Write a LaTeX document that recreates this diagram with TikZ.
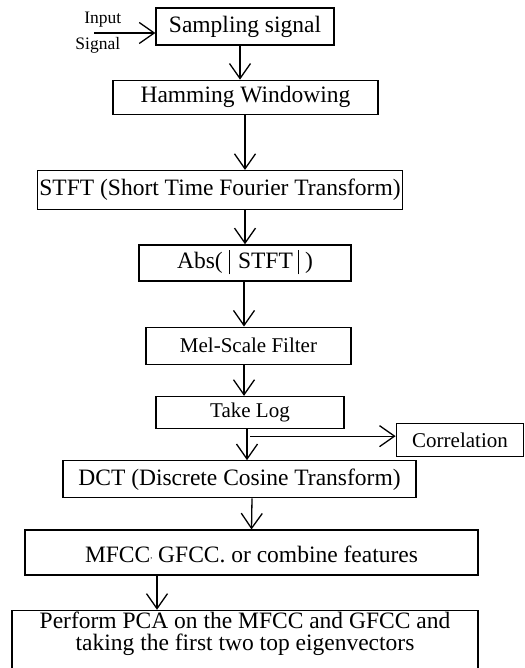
\documentclass[tikz,border=0pt]{standalone}
\usepackage{fontspec}
\setmainfont{Liberation Serif}
\usetikzlibrary{positioning,arrows.meta}

\newcommand{\absbar}{\rule[-6pt]{1.2pt}{24pt}}

\tikzset{
  box/.style={draw, line width=1.3pt, inner sep=2pt, font=\fontsize{23.5}{26}\selectfont},
  smallbox/.style={box, font=\fontsize{21}{24}\selectfont},
  sig/.style={inner sep=3pt, font=\fontsize{17.5}{20}\selectfont},
  flow/.style={line width=1.3pt, -{Straight Barb[length=15pt,width=21pt]}},
}

\begin{document}
\begin{tikzpicture}[x=1pt,y=1pt]
    \useasboundingbox (0,0) rectangle (524,-668);

    % processing chain
    \node[box, minimum width=178pt, minimum height=37pt] (samp) at (245,-26.5) {Sampling signal};
    \node[box, minimum width=265pt, minimum height=34pt, below=34pt of samp, xshift=0.5pt] (ham) {Hamming Windowing};
    \node[box, minimum width=356pt, minimum height=39pt, below=55pt of ham, xshift=-25.5pt] (stft) {STFT (Short Time Fourier Transform)};
    \node[box, minimum width=212pt, minimum height=36pt, text height=17pt, text depth=6pt, below=34pt of stft, xshift=25pt] (abs) {Abs(\hspace{6pt}\absbar\hspace{8pt}STFT\hspace{5pt}\absbar\hspace{6pt})};
    \node[smallbox, minimum width=205pt, minimum height=37pt, below=45pt of abs, xshift=3.5pt] (mel) {Mel-Scale Filter};
    \node[smallbox, minimum width=188pt, minimum height=32pt, below=31pt of mel, xshift=1.5pt] (log) {Take Log};
    \node[smallbox, minimum width=127.5pt, minimum height=33pt, right=51pt of log, yshift=-27.5pt] (corr) {Correlation};
    \node[box, minimum width=353pt, minimum height=37pt, below=31pt of log, xshift=-10.5pt] (dct) {DCT (Discrete Cosine Transform)};
    \node[box, minimum width=453pt, minimum height=45pt, text height=19pt, text depth=0pt, below=31pt of dct, xshift=12pt] (feat) {MFCC\raisebox{.3ex}{\footnotesize,} GFCC. or combine features};
    \node[box, minimum width=466pt, minimum height=74pt, below=34pt of feat, xshift=-6.5pt] (pca) {};
    \node[align=center, inner sep=2pt, font=\fontsize{23.5}{22}\selectfont, below=0pt of pca.north] (pcatext) {Perform PCA on the MFCC and GFCC and\\taking the first two top eigenvectors};

    % input signal
    \coordinate[left=61pt of samp.west, yshift=-6.5pt] (in);
    \node[sig, above=3pt of in, xshift=8.5pt] (inlbl) {Input};
    \node[sig, below=1.5pt of in, xshift=3.5pt] (siglbl) {Signal};
    \draw[flow] (in) -- (in -| samp.west);

    \draw[flow] ([xshift=-5pt]samp.south) -- ([xshift=-5pt]samp.south |- ham.north);
    \draw[flow] ([xshift=-0.5pt]ham.south) -- ([xshift=-0.5pt]ham.south |- stft.north);
    \draw[flow] (abs.north |- stft.south) -- (abs.north);
    \draw[flow] ([xshift=-1pt]abs.south) -- ([xshift=-1pt]abs.south |- mel.north);
    \draw[flow] ([xshift=-4.5pt]mel.south) -- ([xshift=-4.5pt]mel.south |- log.north);
    \draw[flow] ([xshift=-3pt]log.south) -- ([xshift=-3pt]log.south |- dct.north);
    \draw[flow] ([yshift=-7pt]log.south) -- ([yshift=-7pt]log.south -| corr.west);
    \draw[flow] ([xshift=0.5pt]dct.south -| feat.north) -- (feat.north);
    \draw[flow] ([xshift=-94.5pt]feat.south) -- ([xshift=-94.5pt]feat.south |- pca.north);
\end{tikzpicture}
\end{document}
